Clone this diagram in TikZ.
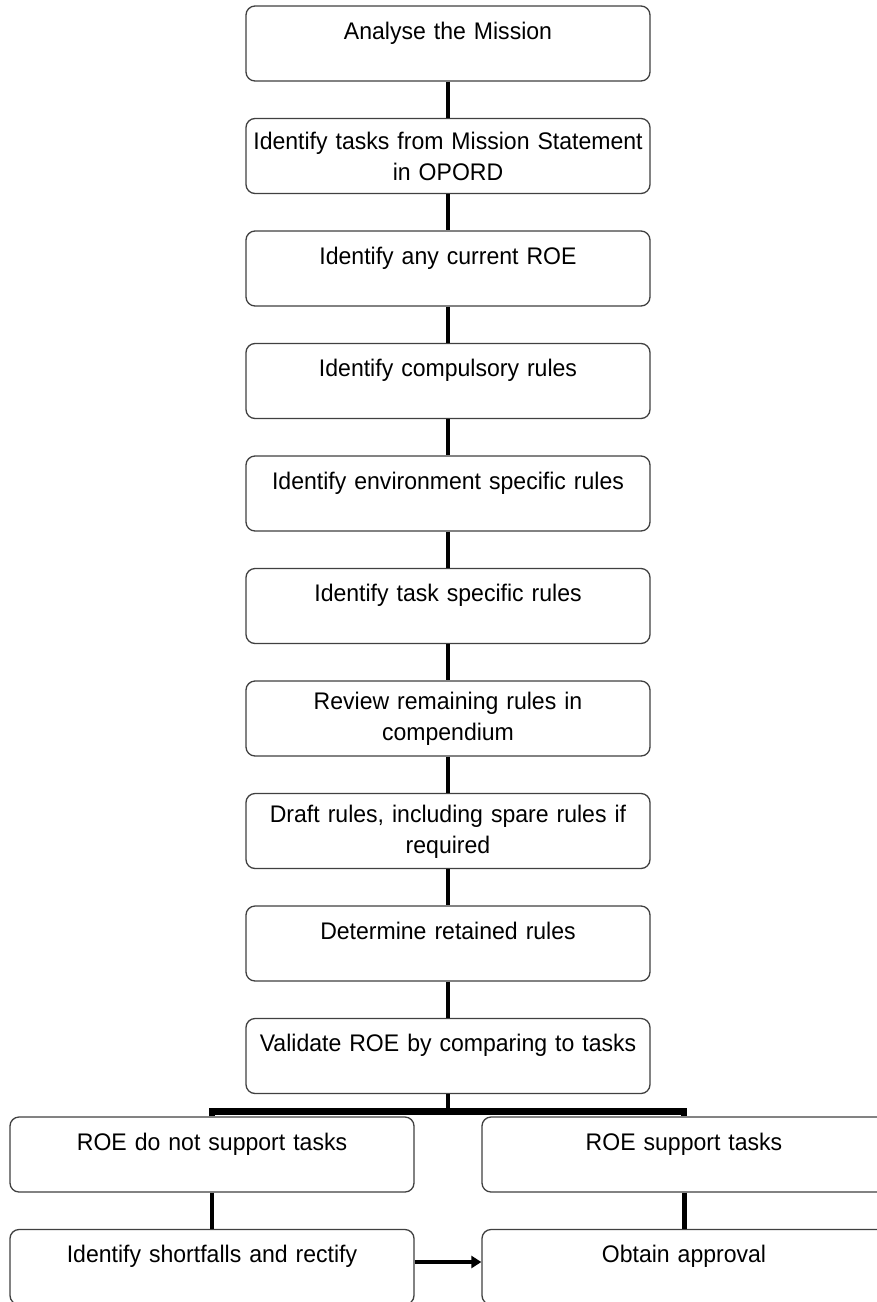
\documentclass[tikz,border=0pt]{standalone}
\usepackage{fontspec}
\setmainfont{Liberation Sans}[FakeStretch=0.96]
\usetikzlibrary{positioning,arrows.meta}

\begin{document}
\begin{tikzpicture}[
  x=1pt, y=-1pt,
  node distance=36.2pt,
  font=\fontsize{24}{31}\selectfont,
  box/.style={draw=black!75, line width=1.3pt, rounded corners=9pt, fill=white,
    minimum height=75pt, text width=396pt, inner xsep=4pt, align=center,
    text height=18pt},
  single/.style={box, text depth=27pt},
  link/.style={draw, line width=3.5pt},
  bus/.style={draw, line width=6.5pt, line join=miter},
  goto/.style={draw, line width=4.5pt, -{Triangle[length=10pt,width=12pt]}}
]
\useasboundingbox (0,0) rectangle (877,1302);

\node[single] (analyse) at (448,43.5) {Analyse the Mission};
\node[box, below=of analyse] (tasks) {Identify tasks from Mission Statement\\in OPORD};
\node[single, below=of tasks] (current) {Identify any current ROE};
\node[single, below=of current] (compulsory) {Identify compulsory rules};
\node[single, below=of compulsory] (environ) {Identify environment specific rules};
\node[single, below=of environ] (taskrules) {Identify task specific rules};
\node[box, below=of taskrules] (review) {Review remaining rules in\\compendium};
\node[box, below=of review] (draft) {Draft rules, including spare rules if\\required};
\node[single, below=of draft] (retained) {Determine retained rules};
\node[single, below=of retained] (validate) {Validate ROE by comparing to tasks};
\coordinate[below=17.2pt of validate] (fork);

\node[single] (notsupport) at (212,1154.5) {ROE do not support tasks};
\node[single] (support) at (684,1154.5) {ROE support tasks};
\node[single, below=of notsupport] (shortfall) {Identify shortfalls and rectify};
\node[single, below=of support] (approval) {Obtain approval};

\foreach \a/\b in {analyse/tasks, tasks/current, current/compulsory,
  compulsory/environ, environ/taskrules, taskrules/review, review/draft,
  draft/retained, retained/validate}
  \draw[link] (\a) -- (\b);
\draw[link] (validate) -- (fork);
\draw[bus] (notsupport.north) |- (fork) -| (support.north);
\draw[link, line width=4pt] (notsupport) -- (shortfall);
\draw[link, line width=5pt] (support) -- (approval);
\draw[goto] ([yshift=5pt]shortfall.east) -- ([yshift=5pt]approval.west);
\end{tikzpicture}
\end{document}
